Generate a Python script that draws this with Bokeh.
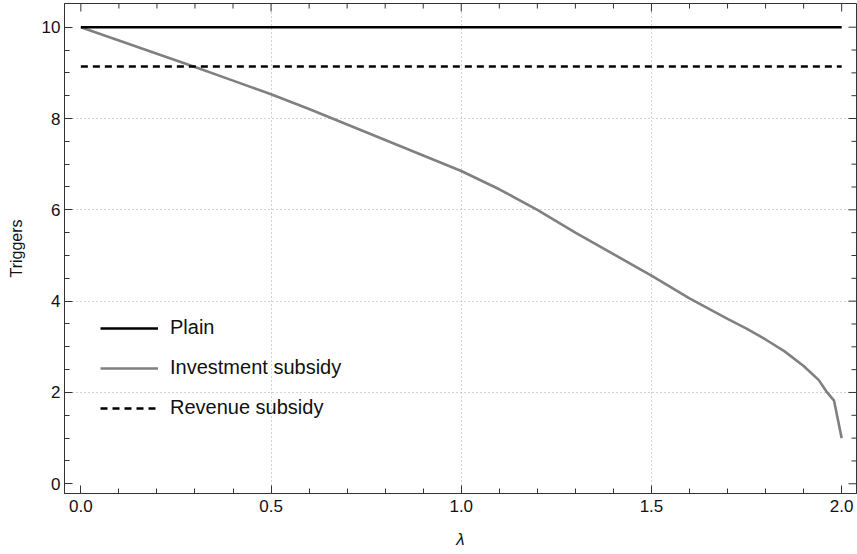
import math

from bokeh.plotting import figure
from bokeh.models import (Range1d, FixedTicker, Legend, LegendItem,
                          PrintfTickFormatter)
from bokeh.embed import file_html
from bokeh.resources import INLINE

# Trigger levels as a function of lambda
lam_invest = [0.0, 0.1, 0.2, 0.3, 0.4, 0.5, 0.6, 0.7, 0.8, 0.9, 1.0, 1.1,
              1.2, 1.3, 1.4, 1.5, 1.6, 1.7, 1.75, 1.8, 1.85, 1.9, 1.94,
              1.96, 1.98, 2.0]
trig_invest = [10.0, 9.71, 9.42, 9.13, 8.83, 8.53, 8.21, 7.87, 7.53, 7.19,
               6.85, 6.45, 6.0, 5.5, 5.03, 4.56, 4.06, 3.61, 3.40, 3.16,
               2.90, 2.58, 2.27, 2.02, 1.82, 1.0]

lam_flat = [0.0, 2.0]
trig_plain = [10.0, 10.0]
trig_revenue = [9.14, 9.14]

# Ticks and grid positions
x_major = [0.0, 0.5, 1.0, 1.5, 2.0]
x_minor = [0.1, 0.2, 0.3, 0.4, 0.6, 0.7, 0.8, 0.9, 1.1, 1.2, 1.3, 1.4,
           1.6, 1.7, 1.8, 1.9]
y_major = [0, 2, 4, 6, 8, 10]
y_minor = [0.5, 1, 1.5, 2.5, 3, 3.5, 4.5, 5, 5.5, 6.5, 7, 7.5, 8.5, 9, 9.5]
x_grid = [0.5, 1.0, 1.5]
y_grid = [2, 4, 6, 8]

X0, X1 = -0.043, 2.039
Y0, Y1 = -0.213, 10.519

FONT = "Liberation Sans"
FRAME = "#333333"

p = figure(width=857, height=554,
           x_range=Range1d(X0, X1), y_range=Range1d(Y0, Y1),
           output_backend="svg", toolbar_location=None,
           min_border_left=64, min_border_right=1,
           min_border_top=3, min_border_bottom=61)

p.background_fill_color = "white"
p.border_fill_color = "white"
p.outline_line_color = FRAME
p.outline_line_width = 1

# Dotted grid
p.xgrid.ticker = FixedTicker(ticks=x_grid)
p.ygrid.ticker = FixedTicker(ticks=y_grid)
for g in (p.xgrid, p.ygrid):
    g.grid_line_color = "#a8a8a8"
    g.grid_line_dash = "1 3"
    g.grid_line_width = 1

# Axes with inward ticks
p.xaxis.ticker = FixedTicker(ticks=x_major, minor_ticks=x_minor)
p.xaxis.formatter = PrintfTickFormatter(format="%.1f")
p.yaxis.ticker = FixedTicker(ticks=y_major, minor_ticks=y_minor)
for ax in (p.xaxis, p.yaxis):
    ax.axis_line_color = FRAME
    ax.major_tick_line_color = FRAME
    ax.minor_tick_line_color = FRAME
    ax.major_tick_in = 8
    ax.major_tick_out = 0
    ax.minor_tick_in = 5
    ax.minor_tick_out = 0
    ax.major_label_text_font = FONT
    ax.major_label_text_font_size = "17px"
    ax.major_label_text_color = "#111111"
    ax.axis_label_text_font = FONT
    ax.axis_label_text_color = "#111111"

p.xaxis.axis_label = "λ"
p.xaxis.axis_label_text_font_style = "italic"
p.xaxis.axis_label_text_font_size = "17px"
p.xaxis.major_label_standoff = 6
p.xaxis.axis_label_standoff = 15

p.yaxis.axis_label = "Triggers"
p.yaxis.axis_label_text_font_style = "normal"
p.yaxis.axis_label_text_font_size = "16px"
p.yaxis.major_label_standoff = 4
p.yaxis.axis_label_standoff = 14

# Mirrored ticks on the top and right edges of the frame
up = math.pi / 2
p.ray(x=x_major, y=[Y1] * len(x_major), length=8, length_units="screen",
      angle=-up, line_color=FRAME, line_width=1)
p.ray(x=x_minor, y=[Y1] * len(x_minor), length=5, length_units="screen",
      angle=-up, line_color=FRAME, line_width=1)
p.ray(x=[X1] * len(y_major), y=y_major, length=8, length_units="screen",
      angle=math.pi, line_color=FRAME, line_width=1)
p.ray(x=[X1] * len(y_minor), y=y_minor, length=5, length_units="screen",
      angle=math.pi, line_color=FRAME, line_width=1)

# Series
r_invest = p.line(lam_invest, trig_invest, line_color="#808080", line_width=2.6)
r_plain = p.line(lam_flat, trig_plain, line_color="black", line_width=2.4)
r_revenue = p.line(lam_flat, trig_revenue, line_color="black", line_width=2.6,
                   line_dash="7 5")

legend = Legend(items=[
    LegendItem(label="Plain", renderers=[r_plain]),
    LegendItem(label="Investment subsidy", renderers=[r_invest]),
    LegendItem(label="Revenue subsidy", renderers=[r_revenue]),
], location=(36, 74), orientation="vertical",
    glyph_width=58, glyph_height=20, label_height=20, spacing=17,
    label_standoff=12, padding=0, margin=0,
    border_line_color=None, background_fill_alpha=0,
    label_text_font=FONT, label_text_font_size="20px",
    label_text_color="#111111")
p.add_layout(legend)

open("out.html", "w").write(file_html(p, INLINE))
